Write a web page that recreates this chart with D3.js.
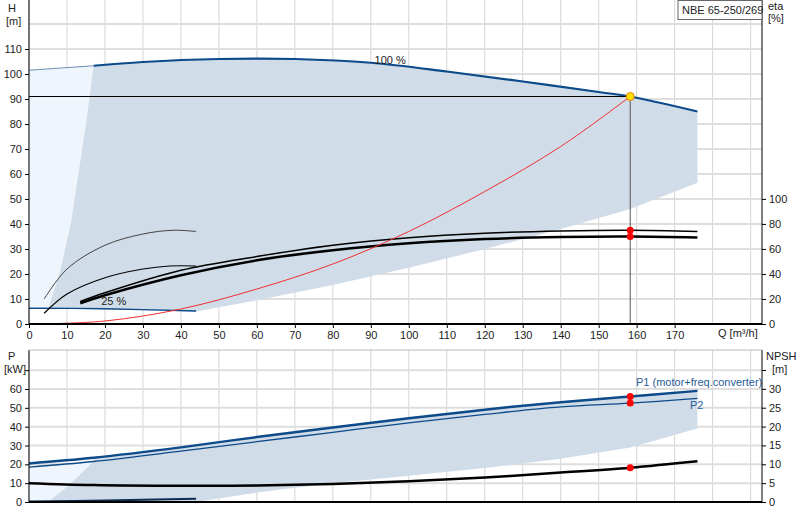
<!DOCTYPE html><html><head><meta charset="utf-8">
<script src="https://cdn.jsdelivr.net/npm/d3@7"></script>
<style>body{margin:0;background:#fff}text{font-family:Arial,"Liberation Sans",sans-serif;font-size:11px;fill:#222}</style></head><body>
<svg id="c" width="800" height="520"></svg>
<script>
const qTicks=[0,10,20,30,40,50,60,70,80,90,100,110,120,130,140,150,160,170];
const hTicks=[0,10,20,30,40,50,60,70,80,90,100,110];
const etaTicks=[0,20,40,60,80,100];
const pTicks=[0,10,20,30,40,50,60];
const npshTicks=[0,5,10,15,20,25,30];
const head100=[[0,101.5],[17,103.3],[30,104.8],[50,106],[70,106],[90,104.5],[110,101],[130,97],[150,92.8],[158.3,91],[176,85]];
const head25=[[0,6.3],[20,6.1],[44,5.2]];
const areaTopLow=[[176,85],[176,56.5],[158.3,46],[140,38],[120,30],[100,22.5],[80,15.6],[60,9.5],[44,5]];
const areaLeft=[[44,5],[20,5.8],[5,6],[8,20],[11,40],[13,60],[15,80],[17,103.3]];
const lightArea=[[0,6.3],[5,6],[8,20],[11,40],[13,60],[15,80],[17,103.3],[0,101.5]];
const eta1=[[13.5,9],[20,12.5],[40,21.5],[60,27],[80,31.5],[100,34.5],[120,36.3],[140,37.2],[158.3,37.5],[176,37]];
const eta2=[[13.5,8.3],[20,11.5],[40,19.5],[60,25.5],[80,29.5],[100,32.3],[120,34],[140,34.8],[158.3,35],[176,34.6]];
const etaLowA=[[4,10],[10,22],[20,31.5],[30,36],[38,37.5],[44,37]];
const etaLowB=[[4,4.3],[10,12],[20,18.5],[30,22],[37,23.2],[44,23.2]];
const system=[[2,0],[20,1.2],[40,6],[60,14],[80,24],[100,37],[120,53],[140,71],[158.3,91]];
const duty=[158.3,91];
const p1=[[0,20.5],[17,23.5],[40,29],[60,34.5],[80,39.5],[100,44.5],[120,49],[140,53],[158.3,56],[176,59]];
const p2=[[0,18.5],[17,21.5],[40,27],[60,32],[80,37],[100,42],[120,46.5],[140,50.5],[158.3,52.5],[176,55]];
const npsh=[[0,5],[17,4.5],[40,4.3],[60,4.4],[80,4.8],[100,5.5],[120,6.5],[140,7.8],[158.3,9.1],[176,10.8]];
const pLow=[[0,0.3],[20,0.8],[44,1.7]];
const pAreaLow=[[176,59],[176,39],[158.3,29],[140,23],[120,18],[100,14],[80,10],[60,5],[44,0],[5,0],[10,8],[17,21.5],[17,23.5]];
const pLight=[[0,0],[5,0],[10,8],[17,21.5],[0,18.5]];

const svg=d3.select("#c");
const x=d3.scaleLinear().domain([0,193]).range([29,762]);
const yH=d3.scaleLinear().domain([0,129.6]).range([324,0]);
const yE=d3.scaleLinear().domain([0,259]).range([324,0]);
const yP=d3.scaleLinear().domain([0,80.7]).range([502,350]);
const yN=d3.scaleLinear().domain([0,40.3]).range([502,350]);
const line=(ys)=>d3.line().x(d=>x(d[0])).y(d=>ys(d[1])).curve(d3.curveCatmullRom);
const poly=(ys)=>d3.line().x(d=>x(d[0])).y(d=>ys(d[1])).curve(d3.curveLinear);
function grid(y0,y1,ys,yt){
  const g=svg.append("g");
  d3.range(0,200,10).forEach(q=>g.append("line").attr("x1",x(q)).attr("x2",x(q)).attr("y1",y0).attr("y2",y1).attr("stroke","#d4d4d4"));
  yt.forEach(v=>g.append("line").attr("x1",29).attr("x2",762).attr("y1",ys(v)).attr("y2",ys(v)).attr("stroke","#dedede").attr("stroke-width",2));
}
grid(0,324,yH,d3.range(0,130,10));
svg.append("path").attr("d",poly(yH)(lightArea)).attr("fill","#eef5fc");
svg.append("path").attr("d",poly(yH)(areaTopLow.concat(areaLeft).concat(head100.filter(d=>d[0]>17)))).attr("fill","#d0dce7");
svg.append("path").attr("d",line(yH)(head100.filter(d=>d[0]>=17))).attr("fill","none").attr("stroke","#0d4a8a").attr("stroke-width",2.2);
svg.append("path").attr("d",line(yH)(head100.filter(d=>d[0]<=17))).attr("fill","none").attr("stroke","#6f8fb0").attr("stroke-width",1.2);
svg.append("path").attr("d",line(yH)(head25)).attr("fill","none").attr("stroke","#0d4a8a").attr("stroke-width",1.3);
svg.append("path").attr("d",line(yH)(etaLowA)).attr("fill","none").attr("stroke","#444").attr("stroke-width",1);
svg.append("path").attr("d",line(yH)(etaLowB)).attr("fill","none").attr("stroke","#000").attr("stroke-width",1.2);
svg.append("path").attr("d",line(yH)(eta1)).attr("fill","none").attr("stroke","#000").attr("stroke-width",1.5);
svg.append("path").attr("d",line(yH)(eta2)).attr("fill","none").attr("stroke","#000").attr("stroke-width",2.5);
svg.append("path").attr("d",line(yH)(system)).attr("fill","none").attr("stroke","#f03030").attr("stroke-width",1);
svg.append("line").attr("x1",x(0)).attr("x2",x(duty[0])).attr("y1",yH(duty[1])).attr("y2",yH(duty[1])).attr("stroke","#000");
svg.append("line").attr("x1",x(duty[0])).attr("x2",x(duty[0])).attr("y1",yH(duty[1])).attr("y2",yH(0)).attr("stroke","#555");
[eta1,eta2].forEach(a=>svg.append("circle").attr("cx",x(duty[0])).attr("cy",yH(a.find(d=>d[0]==duty[0])[1])).attr("r",3.5).attr("fill","#f00"));
svg.append("circle").attr("cx",x(duty[0])).attr("cy",yH(duty[1])).attr("r",4).attr("fill","#ffe000").attr("stroke","#f08000");
svg.append("text").attr("x",x(91)).attr("y",yH(104)).text("100 %");
svg.append("text").attr("x",x(19)).attr("y",yH(7.5)).text("25 %");
svg.append("g").attr("transform","translate(29,0)").call(d3.axisLeft(yH).tickValues(hTicks).tickSize(4).tickPadding(3)).call(g=>g.select(".domain").attr("d","M0,0V324"));
svg.append("g").attr("transform","translate(762,0)").call(d3.axisRight(yE).tickValues(etaTicks).tickSize(4).tickPadding(3)).call(g=>g.select(".domain").attr("d","M0,0V324"));
svg.append("g").attr("transform","translate(0,324)").call(d3.axisBottom(x).tickValues(qTicks).tickSize(4).tickPadding(3)).call(g=>g.select(".domain").attr("d","M29,0H762").attr("stroke-width",2));
svg.selectAll(".tick text").style("font-size","11px").style("font-family","Arial,Liberation Sans,sans-serif");
svg.append("text").attr("x",8).attr("y",12).text("H");
svg.append("text").attr("x",6).attr("y",25).text("[m]");
svg.append("text").attr("x",768).attr("y",10).text("eta");
svg.append("text").attr("x",768).attr("y",22).text("[%]");
svg.append("text").attr("x",718).attr("y",337).text("Q [m³/h]");
svg.append("rect").attr("x",678).attr("y",0.5).attr("width",84).attr("height",19).attr("fill","#fff").attr("stroke","#666");
svg.append("text").attr("x",682).attr("y",14).text("NBE 65-250/269");
grid(350,502,yP,[0,10,20,30,40,50,60,70]);
svg.append("path").attr("d",poly(yP)(pLight)).attr("fill","#eef5fc");
svg.append("path").attr("d",poly(yP)(pAreaLow.concat(p1.filter(d=>d[0]>17)))).attr("fill","#d0dce7");
svg.append("path").attr("d",line(yP)(p1)).attr("fill","none").attr("stroke","#0d4a8a").attr("stroke-width",2.5);
svg.append("path").attr("d",line(yP)(p2)).attr("fill","none").attr("stroke","#0d4a8a").attr("stroke-width",1.3);
svg.append("path").attr("d",line(yN)(npsh)).attr("fill","none").attr("stroke","#000").attr("stroke-width",2.5);
svg.append("path").attr("d",line(yP)(pLow)).attr("fill","none").attr("stroke","#0d2a50").attr("stroke-width",2);
svg.append("circle").attr("cx",x(duty[0])).attr("cy",yP(56)).attr("r",3.5).attr("fill","#f00");
svg.append("circle").attr("cx",x(duty[0])).attr("cy",yP(52.5)).attr("r",3.5).attr("fill","#f00");
svg.append("circle").attr("cx",x(duty[0])).attr("cy",yN(9.1)).attr("r",3.5).attr("fill","#f00");
svg.append("text").attr("x",636).attr("y",386).attr("style","fill:#1f5c99").text("P1 (motor+freq.converter)");
svg.append("text").attr("x",690).attr("y",409).attr("style","fill:#1f5c99").text("P2");
svg.append("g").attr("transform","translate(29,0)").call(d3.axisLeft(yP).tickValues(pTicks.concat([70])).tickSize(4).tickPadding(3).tickFormat(d=>d==70?"":d)).call(g=>g.select(".domain").attr("d","M0,350V502"));
svg.append("g").attr("transform","translate(762,0)").call(d3.axisRight(yN).tickValues(npshTicks.concat([35])).tickSize(4).tickPadding(3).tickFormat(d=>d==35?"":d)).call(g=>g.select(".domain").attr("d","M0,350V502"));
svg.append("line").attr("x1",29).attr("x2",762).attr("y1",502).attr("y2",502).attr("stroke","#000").attr("stroke-width",2);
svg.append("line").attr("x1",29).attr("x2",762).attr("y1",350).attr("y2",350).attr("stroke","#bbb");
svg.selectAll(".tick text").style("font-size","11px");
svg.append("text").attr("x",8).attr("y",360).text("P");
svg.append("text").attr("x",4).attr("y",373).text("[kW]");
svg.append("text").attr("x",766).attr("y",360).text("NPSH");
svg.append("text").attr("x",772).attr("y",373).text("[m]");
</script></body></html>
